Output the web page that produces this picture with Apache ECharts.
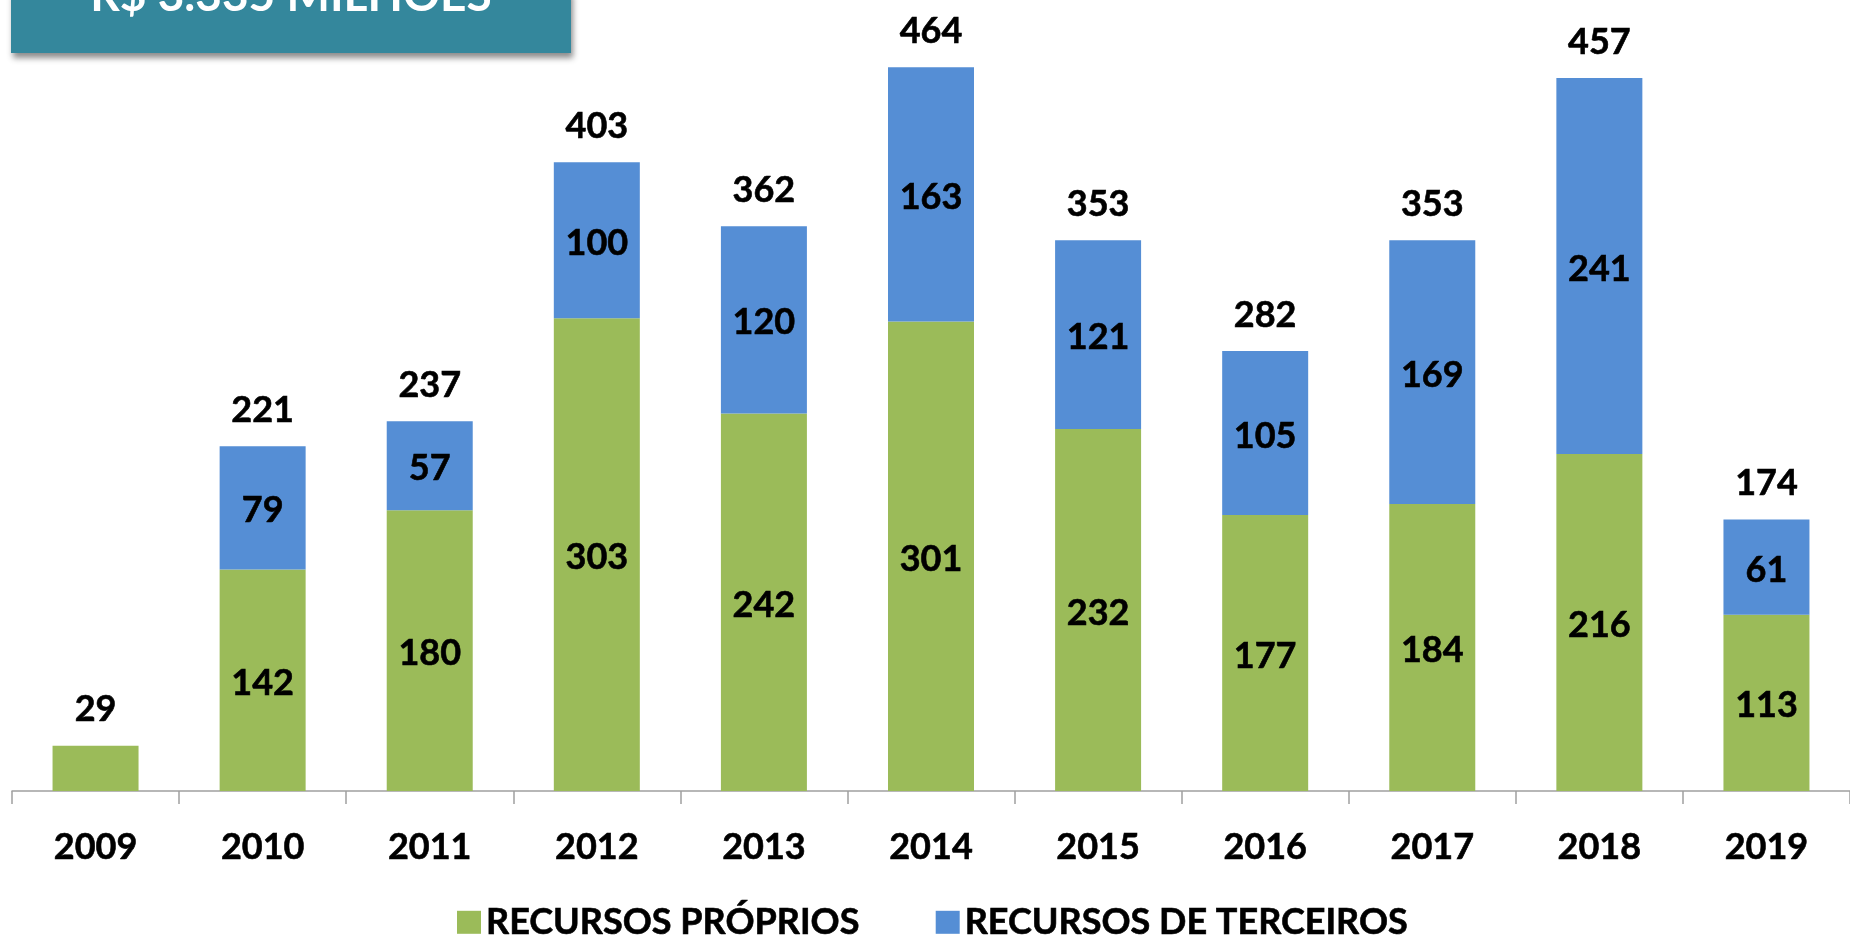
<!DOCTYPE html>
<html>
  <head>
    <title></title>
    <meta charset="UTF-8" />
    <script src="https://cdn.jsdelivr.net/npm/echarts@6/dist/echarts.min.js"></script>
    <style>
      html, body { margin: 0; padding: 0; background: #fff; }
    </style>
  </head>
  <body>
    <div id="main"></div>
    <script>
      const width = 1850;
      const height = 937;
      const main = document.getElementById('main');
      main.style.width = `${width}px`;
      main.style.height = `${height}px`;

      const years = ['2009', '2010', '2011', '2012', '2013', '2014', '2015', '2016', '2017', '2018', '2019'];
      const proprios = [29, 142, 180, 303, 242, 301, 232, 177, 184, 216, 113];
      const terceiros = [0, 79, 57, 100, 120, 163, 121, 105, 169, 241, 61];
      const totais = [29, 221, 237, 403, 362, 464, 353, 282, 353, 457, 174];

      const font = 'Lato';
      // thin outline so Lato reads as heavy as the original bold face
      const heavy = { textBorderColor: '#000', textBorderWidth: 0.6 };
      const labelStyle = {
        show: true,
        color: '#000',
        fontFamily: font,
        fontWeight: 'bold',
        fontSize: 36,
        ...heavy,
      };

      const myChart = echarts.init(main);
      const option = {
        animation: false,
        grid: {
          left: 12,
          top: 11,
          width: 1845,
          height: 780,
        },
        legend: {
          data: ['RECURSOS PRÓPRIOS', 'RECURSOS DE TERCEIROS'],
          icon: 'rect',
          left: 452,
          top: 899,
          itemWidth: 24,
          itemHeight: 23,
          itemGap: 76,
          itemStyle: { borderWidth: 0 },
          textStyle: {
            color: '#000',
            fontFamily: font,
            fontWeight: 'bold',
            fontSize: 36,
            ...heavy,
          },
        },
        xAxis: {
          type: 'category',
          data: years,
          axisLine: { show: true, lineStyle: { color: '#a0a0a0', width: 1.5 } },
          axisTick: {
            show: true,
            alignWithLabel: false,
            length: 13,
            lineStyle: { color: '#a0a0a0', width: 1.5 },
          },
          axisLabel: {
            color: '#000',
            fontFamily: font,
            fontWeight: 'bold',
            fontSize: 36,
            margin: 38,
            ...heavy,
          },
        },
        yAxis: {
          type: 'value',
          min: 0,
          max: 500,
          show: false,
        },
        series: [
          {
            name: 'RECURSOS PRÓPRIOS',
            type: 'bar',
            stack: 'total',
            barWidth: 86,
            data: proprios.map((v, i) => ({
              value: v,
              label: { show: terceiros[i] > 0 },
            })),
            itemStyle: { color: '#9BBB59' },
            label: { ...labelStyle, position: 'inside', offset: [0, 3] },
          },
          {
            name: 'RECURSOS DE TERCEIROS',
            type: 'bar',
            stack: 'total',
            barWidth: 86,
            data: terceiros.map((v) => ({
              value: v,
              label: { show: v > 0 },
            })),
            itemStyle: { color: '#558ED5' },
            label: { ...labelStyle, position: 'inside', offset: [0, 3] },
          },
          {
            name: 'Total',
            type: 'bar',
            barWidth: 86,
            barGap: '-100%',
            data: totais,
            itemStyle: { color: 'rgba(0,0,0,0)' },
            label: { ...labelStyle, position: 'top', distance: 18 },
            silent: true,
          },
        ],
        graphic: [
          {
            type: 'rect',
            shape: { x: 11, y: -10, width: 560, height: 63 },
            style: {
              fill: '#34879C',
              shadowBlur: 6,
              shadowOffsetX: 2,
              shadowOffsetY: 5,
              shadowColor: 'rgba(0,0,0,0.45)',
            },
          },
          {
            type: 'text',
            x: 291,
            y: 19,
            style: {
              text: 'R$ 3.335 MILHÕES',
              fill: '#fff',
              font: `bold 46px ${font}`,
              textAlign: 'center',
              textVerticalAlign: 'bottom',
            },
          },
        ],
      };
      myChart.setOption(option);
    </script>
  </body>
</html>
